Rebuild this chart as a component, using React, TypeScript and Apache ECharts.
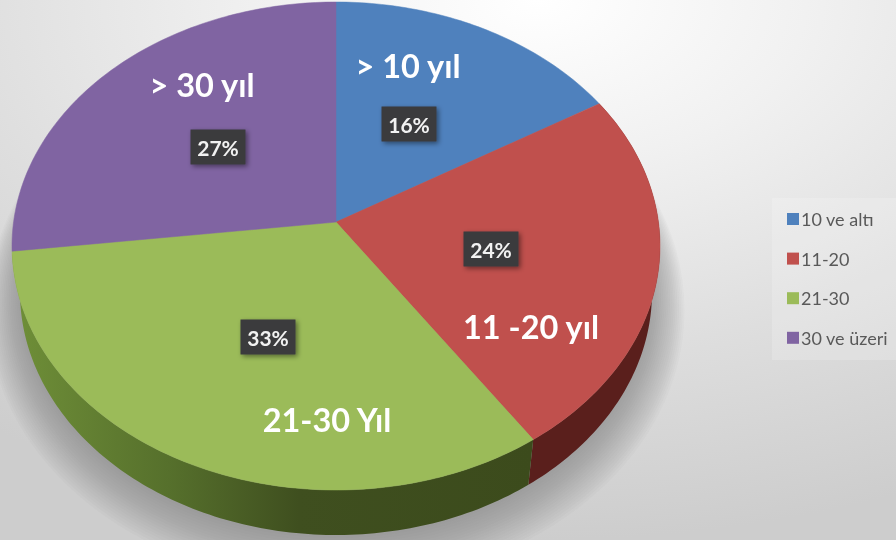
import React, { useEffect, useRef } from "react";
import * as echarts from "echarts";

const categories = ["10 ve altı", "11-20", "21-30", "30 ve üzeri"];
const sliceTitles = ["> 10 yıl", "11 -20 yıl", "21-30 Yıl", "> 30 yıl"];
const sliceValues = [16.4, 24.1, 32.6, 26.9];
const sliceColors = ["#4f81bd", "#c0504d", "#9bbb59", "#8064a2"];

const PERCENT_BOX = [[409, 124], [491, 249], [268, 337], [218, 147]];
const TITLE_POS = [[408, 65], [531, 326], [327, 419], [202, 84]];

const TOP = { cx: 336, cy: 246, rx: 324, ry: 244 };
const BASE = { cx: 336, cy: 292, rx: 316, ry: 243 };
const TILT = 0.098;
const SHADOW_LAYERS = 18;
const FONT = "Lato, 'Open Sans', sans-serif";

const total = sliceValues.reduce((a, b) => a + b, 0);
const starts = sliceValues.map((_, i) => sliceValues.slice(0, i).reduce((a, b) => a + b, 0));

function project(theta: number, e: typeof TOP) {
  const u = Math.sin(theta);
  const v = -Math.cos(theta);
  const w = 1 - TILT * v;
  return [e.cx + (e.rx * u * Math.sqrt(1 - TILT * TILT)) / w, e.cy + (e.ry * (v - TILT)) / w];
}

function arc(a0: number, a1: number, e: typeof TOP) {
  const pts: number[][] = [];
  const n = Math.max(4, Math.ceil(((a1 - a0) * 180) / Math.PI));
  for (let i = 0; i <= n; i++) pts.push(project(a0 + ((a1 - a0) * i) / n, e));
  return pts;
}

const toAngle = (v: number) => (v / total) * Math.PI * 2;

function faceRender(params: any, api: any) {
  const i = params.seriesIndex - 2;
  const a0 = toAngle(api.value(0));
  const a1 = toAngle(api.value(0) + api.value(1));
  const apex = [TOP.cx, TOP.cy - TOP.ry * TILT];
  const box = PERCENT_BOX[i];
  const title = TITLE_POS[i];
  return {
    type: "group",
    children: [
      { type: "polygon", shape: { points: [apex, ...arc(a0, a1, TOP)] }, style: { fill: sliceColors[i], stroke: sliceColors[i], lineWidth: 0.5 } },
      {
        type: "rect",
        shape: { x: box[0] - 27.5, y: box[1] - 17.5, width: 55, height: 35 },
        style: { fill: "#3b3a3c", shadowBlur: 5, shadowColor: "rgba(0,0,0,0.45)", shadowOffsetX: 2, shadowOffsetY: 2 },
      },
      {
        type: "text",
        style: { x: box[0], y: box[1], text: Math.round(api.value(1)) + "%", fill: "#f2f2f2", font: `bold 21px ${FONT}`, align: "center", verticalAlign: "middle" },
      },
      {
        type: "text",
        style: { x: title[0], y: title[1], text: sliceTitles[i], fill: "#ffffff", font: `bold 32.5px ${FONT}`, align: "center", verticalAlign: "middle" },
      },
    ],
  };
}

function wallRender(fill: any) {
  return (_: any, api: any) => {
    const a0 = toAngle(api.value(0));
    const a1 = toAngle(api.value(0) + api.value(1));
    return {
      type: "polygon",
      shape: { points: [...arc(a0, a1, TOP), ...arc(a0, a1, BASE).reverse()] },
      style: { fill, stroke: null },
    };
  };
}

function shadowRender() {
  const children = [];
  for (let k = 1; k <= SHADOW_LAYERS; k++) {
    children.push({
      type: "ellipse",
      shape: { cx: BASE.cx, cy: BASE.cy + k, rx: BASE.rx + k * 1.8, ry: BASE.ry + k * 1.8 },
      style: { fill: "rgba(100,100,100,0.036)" },
    });
  }
  return { type: "group", children };
}

export default function App() {
  const ref = useRef<HTMLDivElement>(null);
  useEffect(() => {
    const chart = echarts.init(ref.current!, undefined, { renderer: "svg" });
    chart.setOption({
      animation: false,
      backgroundColor: new echarts.graphic.RadialGradient(0.6, 0, 1, [
        { offset: 0, color: "#ffffff" },
        { offset: 0.3, color: "#f1f1f1" },
        { offset: 0.65, color: "#dedede" },
        { offset: 1, color: "#cdcdcd" },
      ]),
      graphic: [
        {
          type: "rect",
          z: 0,
          shape: { x: 772, y: 198, width: 124, height: 162 },
          style: { fill: "rgba(255,255,255,0.18)" },
        },
      ],
      legend: {
        orient: "vertical",
        left: 782,
        top: 205,
        icon: "rect",
        itemWidth: 12,
        itemHeight: 12,
        itemGap: 21.6,
        data: categories,
        selectedMode: false,
        textStyle: { color: "#595959", fontSize: 18, fontFamily: FONT, padding: [0, 0, 0, -3] },
      },
      series: [
        {
          type: "custom",
          name: "wall-red",
          coordinateSystem: "none",
          z: 1,
          silent: true,
          data: [[starts[1], sliceValues[1]]],
          renderItem: wallRender("#5a1f1c"),
        },
        {
          type: "custom",
          name: "wall-green",
          coordinateSystem: "none",
          z: 1,
          silent: true,
          data: [[starts[2], sliceValues[2]]],
          renderItem: wallRender(
            new echarts.graphic.LinearGradient(0, 0, 1, 0, [
              { offset: 0, color: "#6f8f38" },
              { offset: 0.3, color: "#56702c" },
              { offset: 0.55, color: "#3f4f1f" },
              { offset: 1, color: "#3c4b1c" },
            ])
          ),
        },
        ...categories.map((name, i) => ({
          type: "custom",
          name,
          coordinateSystem: "none",
          z: 2,
          silent: true,
          itemStyle: { color: sliceColors[i] },
          data: [[starts[i], sliceValues[i]]],
          renderItem: faceRender,
        })),
        {
          type: "custom",
          name: "shadow",
          coordinateSystem: "none",
          z: 0,
          silent: true,
          data: [[0]],
          renderItem: shadowRender,
        },
      ],
    });
    return () => chart.dispose();
  }, []);
  return <div ref={ref} style={{ position: "fixed", left: 0, top: 0, width: 896, height: 540 }} />;
}
